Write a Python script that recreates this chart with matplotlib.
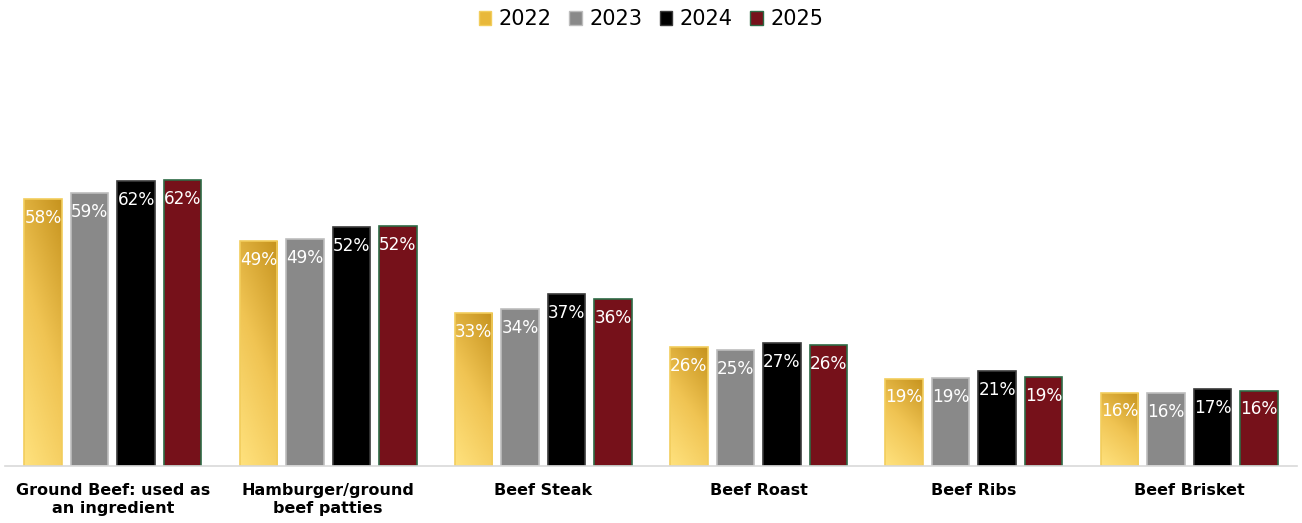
import numpy as np
import matplotlib
matplotlib.use("Agg")
import matplotlib.pyplot as plt
from matplotlib.colors import LinearSegmentedColormap
from matplotlib.patches import Patch

categories = ["Ground Beef: used as\nan ingredient", "Hamburger/ground\nbeef patties",
              "Beef Steak", "Beef Roast", "Beef Ribs", "Beef Brisket"]
years = ["2022", "2023", "2024", "2025"]

v2022 = [58.2, 49.0, 33.3, 25.9, 19.0, 16.0]
v2023 = [59.4, 49.4, 34.1, 25.3, 19.1, 15.8]
v2024 = [62.0, 52.0, 37.4, 26.8, 20.6, 16.8]
v2025 = [62.2, 52.3, 36.4, 26.3, 19.4, 16.4]
series = [v2022, v2023, v2024, v2025]

fills = ["#E8B83A", "#898989", "#000000", "#76111A"]
edges = ["#F2CD5C", "#BDBDBD", "#3A3A3A", "#2E6B45"]

plt.rcParams['font.family'] = ['DejaVu Sans']

fig = plt.figure(figsize=(13.02, 5.23), dpi=100)
ax = fig.add_axes([0.004, 0.109, 0.992, 0.79])

x = np.arange(len(categories))
step = 0.216
width = 0.175

# gold gradient for 2022 bars: light at bottom-left, darker at top-right
gold = LinearSegmentedColormap.from_list("gold", ["#FFE27E", "#F0C453", "#C6931E"])
yy, xx = np.mgrid[0:1:100j, 0:1:100j]
grad = 0.7 * yy + 0.3 * xx

for i, vals in enumerate(series):
    pos = x + (i - 1.5) * step
    bars = ax.bar(pos, vals, width, color=fills[i], edgecolor=edges[i],
                  linewidth=1.2, zorder=2)
    if i == 0:
        for b in bars:
            b.set_facecolor("none")
            im = ax.imshow(grad, cmap=gold, origin="lower", aspect="auto",
                           extent=[b.get_x(), b.get_x() + b.get_width(), 0, b.get_height()],
                           zorder=1.5, vmin=0, vmax=1)
            im.set_clip_path(b)
    for p, v in zip(pos, vals):
        ax.annotate(f"{v:.0f}%", (p, v), xytext=(0, -7), textcoords="offset points",
                    ha="center", va="top", color="white", fontsize=12.2, zorder=3)

ax.set_xlim(-0.5, len(categories) - 0.5)
ax.set_ylim(0, 90)
ax.set_xticks(x)
ax.set_xticklabels(categories, fontsize=11.5, fontweight="bold", linespacing=1.3)
ax.tick_params(axis="x", length=0, pad=12)
ax.set_yticks([])
for s in ["top", "right", "left"]:
    ax.spines[s].set_visible(False)
ax.spines["bottom"].set_color("#D9D9D9")
ax.spines["bottom"].set_linewidth(1.2)

handles = [Patch(facecolor=fills[i], edgecolor=edges[i]) for i in range(4)]
fig.legend(handles, years, loc="upper center", bbox_to_anchor=(0.5, 1.018), ncol=4,
           frameon=False, fontsize=15, handlelength=0.6, handleheight=0.6,
           handletextpad=0.35, columnspacing=0.85)

fig.savefig("out.png", dpi=100)
